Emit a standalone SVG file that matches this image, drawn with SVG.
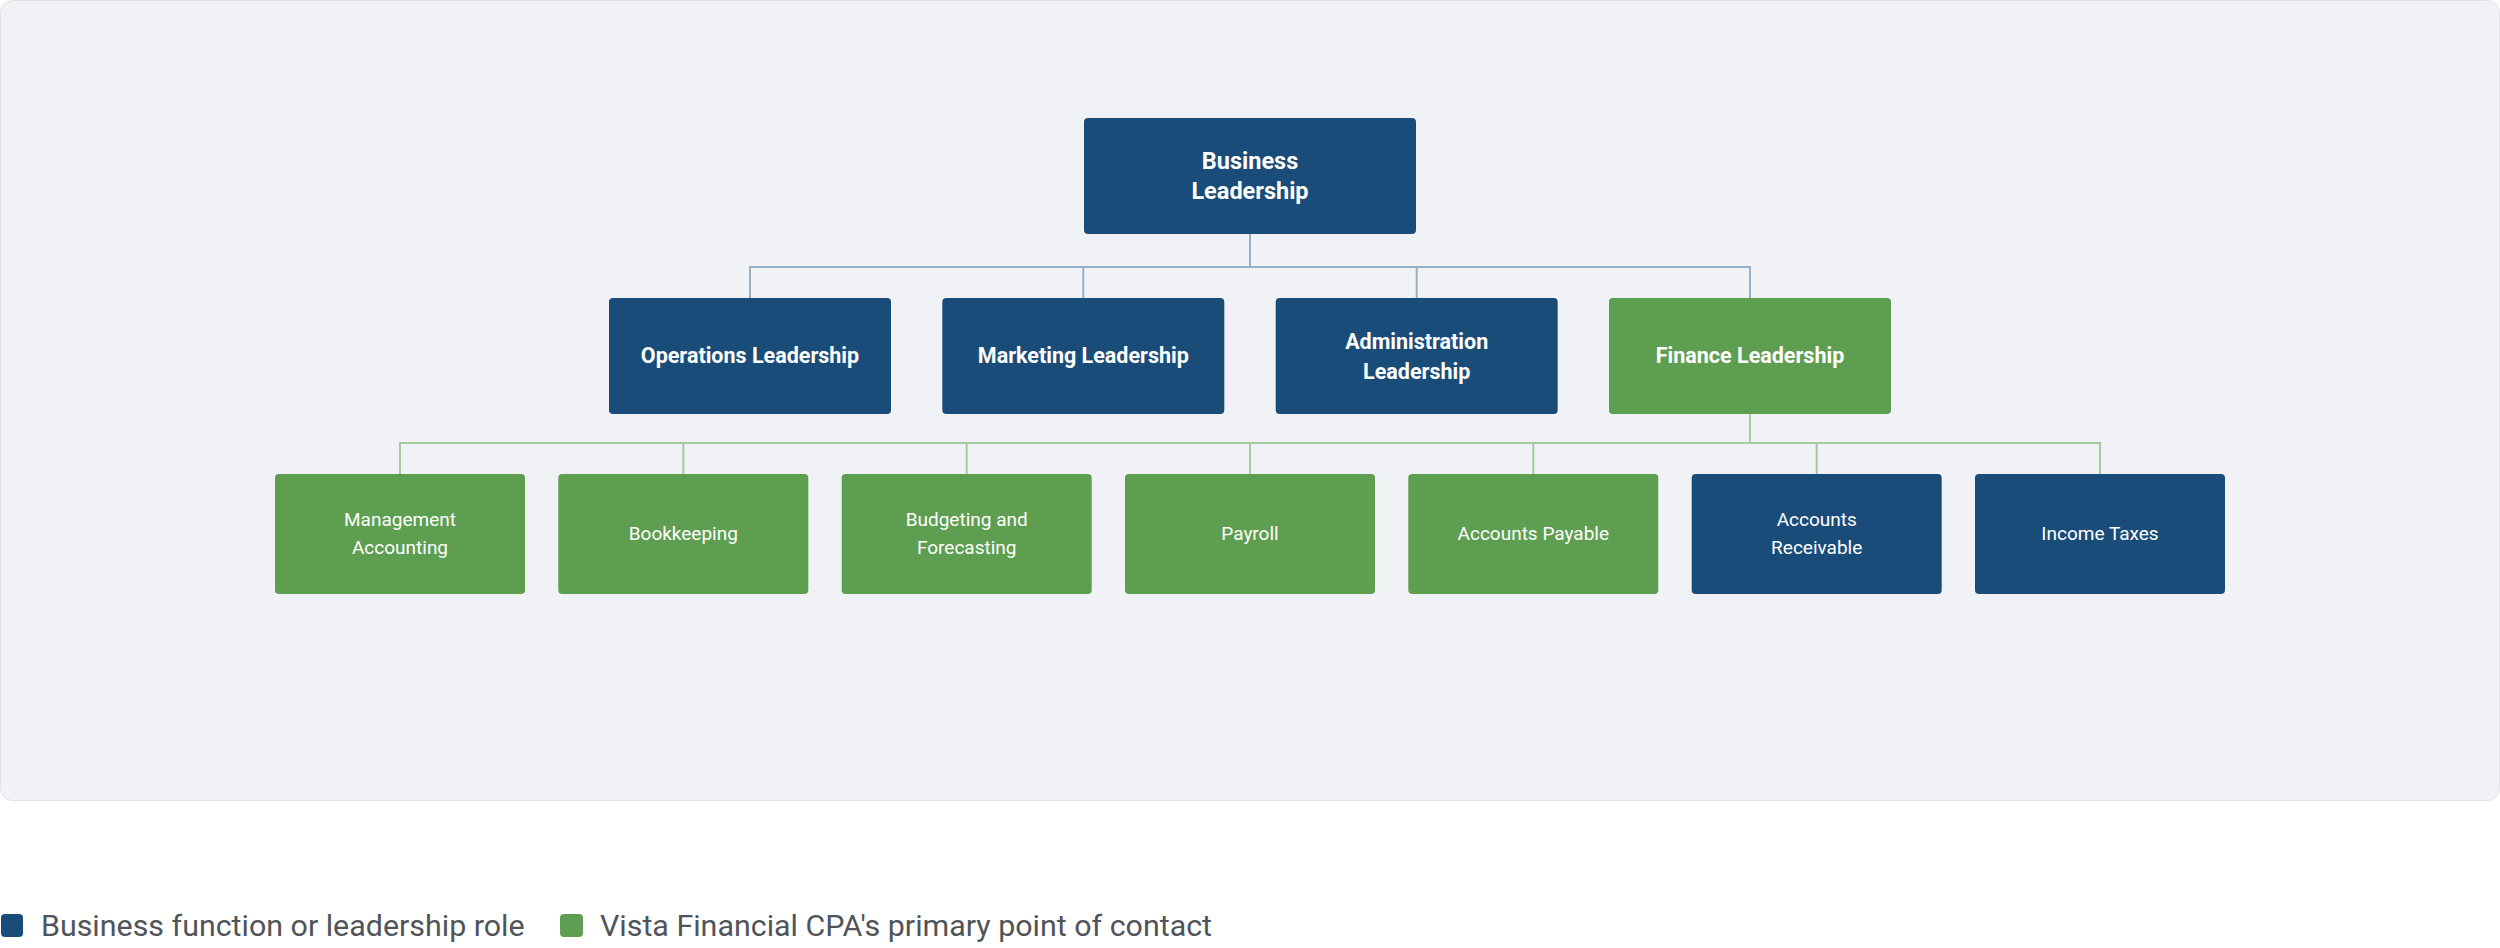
<svg xmlns="http://www.w3.org/2000/svg" width="2500" height="948" viewBox="0 0 2500 948">
<style>
.blue{fill:#1a4c79}
.green{fill:#5e9e50}
.t0{font-family:Roboto,"Liberation Sans",sans-serif;font-weight:700;font-size:23.5px;fill:#ffffff;text-anchor:middle}
.t1{font-family:Roboto,"Liberation Sans",sans-serif;font-weight:700;font-size:21.5px;fill:#ffffff;text-anchor:middle}
.t3{font-family:Roboto,"Liberation Sans",sans-serif;font-weight:400;font-size:19px;fill:#ffffff;text-anchor:middle}
.lg{font-family:Roboto,"Liberation Sans",sans-serif;font-weight:400;font-size:30.4px;fill:#505458}
.cb{fill:none;stroke:#97b0c7;stroke-width:2}
.cg{fill:none;stroke:#a5cb9c;stroke-width:2}
</style>
<rect x="0.5" y="0.5" width="2499" height="800" rx="12" fill="#f0f2f6" stroke="#e0e2e7" stroke-width="1"/>
<g id="connectors">
<path class="cb" d="M1250 234V267M750 298V267H1750V298M1083.3 267V298M1416.7 267V298"/>
<path class="cg" d="M1750 414V443M400 474V443H2100V474M683.3 443V474M966.7 443V474M1250 443V474M1533.3 443V474M1816.7 443V474"/>
</g>
<g id="n-business">
<rect class="blue" x="1084" y="118" width="332" height="116" rx="4"/>
<text class="t0" x="1250" y="169">Business</text>
<text class="t0" x="1250" y="199">Leadership</text>
</g>
<g id="n-operations">
<rect class="blue" x="609" y="298" width="282" height="116" rx="4"/>
<text class="t1" x="750" y="363">Operations Leadership</text>
</g>
<g id="n-marketing">
<rect class="blue" x="942.3" y="298" width="282" height="116" rx="4"/>
<text class="t1" x="1083.3" y="363">Marketing Leadership</text>
</g>
<g id="n-administration">
<rect class="blue" x="1275.7" y="298" width="282" height="116" rx="4"/>
<text class="t1" x="1416.7" y="349">Administration</text>
<text class="t1" x="1416.7" y="379">Leadership</text>
</g>
<g id="n-finance">
<rect class="green" x="1609" y="298" width="282" height="116" rx="4"/>
<text class="t1" x="1750" y="363">Finance Leadership</text>
</g>
<g id="n-management">
<rect class="green" x="275" y="474" width="250" height="120" rx="4"/>
<text class="t3" x="400" y="526">Management</text>
<text class="t3" x="400" y="554">Accounting</text>
</g>
<g id="n-bookkeeping">
<rect class="green" x="558.3" y="474" width="250" height="120" rx="4"/>
<text class="t3" x="683.3" y="540">Bookkeeping</text>
</g>
<g id="n-budgeting">
<rect class="green" x="841.7" y="474" width="250" height="120" rx="4"/>
<text class="t3" x="966.7" y="526">Budgeting and</text>
<text class="t3" x="966.7" y="554">Forecasting</text>
</g>
<g id="n-payroll">
<rect class="green" x="1125" y="474" width="250" height="120" rx="4"/>
<text class="t3" x="1250" y="540">Payroll</text>
</g>
<g id="n-payable">
<rect class="green" x="1408.3" y="474" width="250" height="120" rx="4"/>
<text class="t3" x="1533.3" y="540">Accounts Payable</text>
</g>
<g id="n-receivable">
<rect class="blue" x="1691.7" y="474" width="250" height="120" rx="4"/>
<text class="t3" x="1816.7" y="526">Accounts</text>
<text class="t3" x="1816.7" y="554">Receivable</text>
</g>
<g id="n-income">
<rect class="blue" x="1975" y="474" width="250" height="120" rx="4"/>
<text class="t3" x="2100" y="540">Income Taxes</text>
</g>
<g id="legend">
<rect class="blue" x="1" y="914" width="22" height="23" rx="4"/>
<text class="lg" x="41" y="936">Business function or leadership role</text>
<rect class="green" x="560" y="914" width="23" height="23" rx="4"/>
<text class="lg" x="600" y="936">Vista Financial CPA's primary point of contact</text>
</g>
</svg>
